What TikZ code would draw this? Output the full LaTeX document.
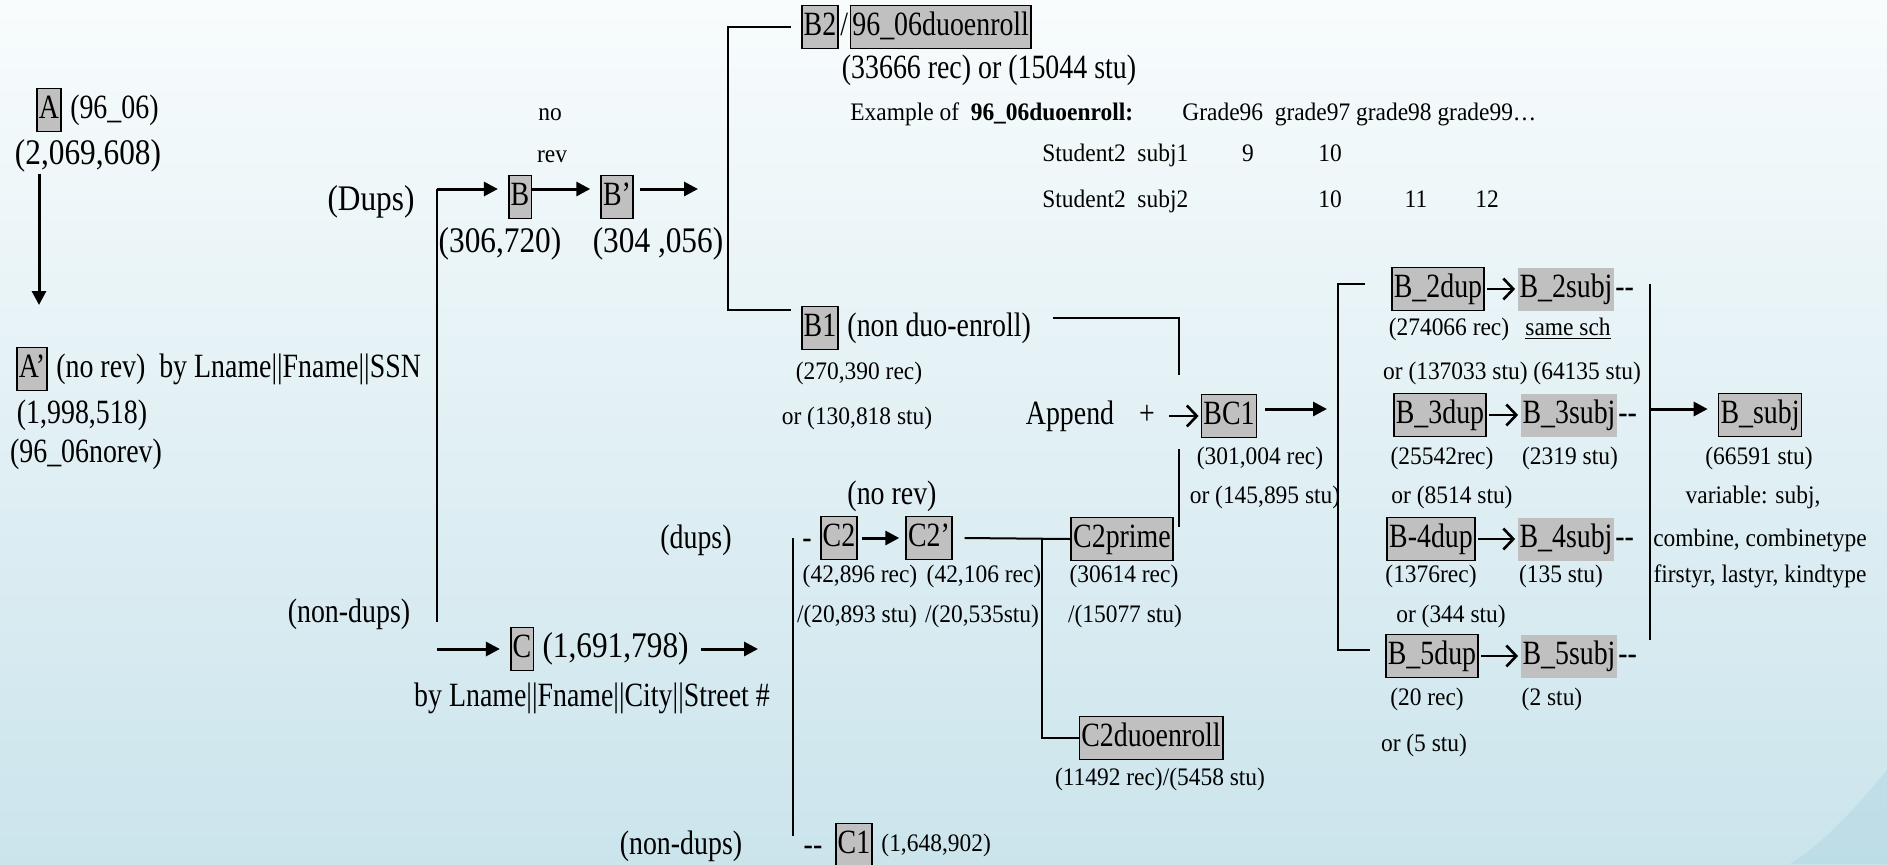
\documentclass[tikz,border=0pt]{standalone}
\usepackage{fontspec}
\setmainfont{Liberation Serif}[FakeStretch=0.82]
\newfontfamily\widefont{Liberation Serif}[FakeStretch=0.87]
\newfontfamily\smallfont{Liberation Serif}[FakeStretch=0.93]
\usepackage{tikz}
\usetikzlibrary{positioning, arrows.meta}
\definecolor{cellgray}{RGB}{192,192,192}
\definecolor{bgtop}{RGB}{248,252,253}
\definecolor{bgmid}{RGB}{240,247,250}
\definecolor{bgbottom}{RGB}{203,228,236}
\definecolor{swoosh}{RGB}{165,208,220}

\begin{document}
\begin{tikzpicture}[x=0.5pt, y=-0.5pt, >={Triangle[length=7pt, width=7pt]},
    font=\fontsize{17}{20}\selectfont, node distance=3pt,
    every node/.style={text height=12pt, text depth=3.5pt, inner sep=1pt},
    small/.style={font=\smallfont\fontsize{12.6}{15}\selectfont, text height=9pt, text depth=2.6pt},
    wide/.style={font=\widefont\fontsize{18}{21}\selectfont},
    dupbox/.style={draw=black, line width=0.8pt, fill=cellgray, inner xsep=1pt, inner ysep=3pt},
    subjbox/.style={fill=cellgray, inner xsep=1pt, inner ysep=3pt},
    arr/.style={->, line width=1.5pt, shorten >=5pt},
    barb/.style={-{Straight Barb[length=5pt, width=10.5pt]}, line width=1.3pt},
    link/.style={line width=1pt}]
    \useasboundingbox (0,0) rectangle (1887,864);
    \shade[top color=bgtop, middle color=bgmid, bottom color=bgbottom] (0,0) rectangle (1887,864);
    \fill[swoosh, opacity=0.35] (1887,770) .. controls (1850,815) and (1820,845) .. (1790,864) -- (1887,864) -- cycle;

    \node[dupbox] (a) at (49,110) {A};
    \node[right=of a] (aname) {(96\_06)};
    \node[wide] (acount) at (88,156) {(2,069,608)};
    \coordinate (atip) at (39,305);
    \draw[arr, shorten >=0pt] (acount.south -| atip) -- (atip);
    \node[dupbox] (ap) at (32,369) {A’};
    \node[right=of ap] (apname) {(no rev)\ \ by Lname||Fname||SSN};
    \node (apcount) at (82,415) {(1,998,518)};
    \node (apfile) at (86,454) {(96\_06norev)};

    \node[wide] (dups) at (371,202) {(Dups)};
    \node (nondups) at (349,614) {(non-dups)};
    \coordinate (split) at (437,189);
    \coordinate (splitend) at (437,622);
    \node[dupbox] (b) at (520,197) {B};
    \node[dupbox] (bp) at (617,197) {B’};
    \node[small] (no) at (550,114) {no};
    \node[small] (rev) at (552,156) {rev};
    \node[wide] (bcount) at (500,244) {(306,720)};
    \node[wide] (bpcount) at (658,244) {(304 ,056)};
    \coordinate (bpend) at (708,189);
    \draw[link] (splitend) -- (split);
    \draw[arr] (split) -- (split -| b.west);
    \draw[arr] (b.east |- split) -- (bp.west |- split);
    \draw[arr] ([xshift=3pt]bp.east |- split) -- (bpend);

    \coordinate (cstart) at (437,649);
    \node[dupbox] (c) at (522,649) {C};
    \node[wide, right=of c] (ccount) {(1,691,798)};
    \coordinate (cend) at (768,649);
    \node (ckey) at (592,698) {by Lname||Fname||City||Street \#};
    \draw[arr] (cstart) -- (c.west);
    \draw[arr] ([xshift=5pt]ccount.east) -- (cend);

    \node[dupbox] (b2) at (820,27) {B2};
    \node[right=0pt of b2, inner xsep=0.5pt] (slash) {/};
    \node[dupbox, right=0pt of slash] (duo) {96\_06duoenroll};
    \node (b2count) at (989,70) {(33666 rec) or (15044 stu)};
    \node[small, anchor=west] (example) at (848,114) {Example of\ \ \textbf{96\_06duoenroll:}};
    \node[small, anchor=west] (grades) at (1180,114) {Grade96\ \ grade97 grade98 grade99…};
    \node[small, anchor=west] (stu1) at (1040,155) {Student2\ \ subj1};
    \node[small] (s1g96) at (1248,155) {9};
    \node[small] (s1g97) at (1330,155) {10};
    \node[small, anchor=west] (stu2) at (1040,201) {Student2\ \ subj2};
    \node[small] (s2g97) at (1330,201) {10};
    \node[small] (s2g98) at (1416,201) {11};
    \node[small] (s2g99) at (1487,201) {12};
    \node[dupbox] (b1) at (820,328) {B1};
    \node[right=of b1] (b1name) {(non duo-enroll)};
    \node[small] (b1rec) at (859,373) {(270,390 rec)};
    \node[small] (b1stu) at (857,418) {or (130,818 stu)};
    \draw[link] ([xshift=-5pt]b2.west) -- ++(-63,0) |- ([xshift=-5pt, yshift=-2pt]b1.north west);

    \node (append) at (1070,416) {Append};
    \node (plus) at (1147,416) {+};
    \node[dupbox] (bc1) at (1229,416) {BC1};
    \coordinate (b1join) at (1179,375);
    \coordinate (c2join) at (1179,449);
    \coordinate (bcend) at (1337,409);
    \node[small] (bc1rec) at (1260,458) {(301,004 rec)};
    \node[small] (bc1stu) at (1265,497) {or (145,895 stu)};
    \draw[barb] ([xshift=6pt]plus.east) -- ([xshift=-1pt]bc1.west);
    \draw[arr] ([xshift=4pt]bc1.east |- bcend) -- (bcend);
    \draw[link] ([xshift=10pt, yshift=5pt]b1name.east) -| (b1join);

    \coordinate (ctop) at (793,538);
    \coordinate (cbot) at (793,836);
    \draw[link] (ctop) -- (cbot);
    \node (dupsc) at (696,540) {(dups)};
    \node (nondupsc) at (681,846) {(non-dups)};
    \node (c2dash) at (807,540) {-};
    \node[dupbox] (c2) at (839,538) {C2};
    \node[dupbox] (c2p) at (929,538) {C2’};
    \draw[arr, shorten >=3pt] ([xshift=2pt]c2.east) -- (c2p.west);
    \node (c2norev) at (892,496) {(no rev)};
    \node[small] (c2rec) at (860,576) {(42,896 rec)};
    \node[small] (c2prec) at (984,576) {(42,106 rec)};
    \node[small] (c2stu) at (857,616) {/(20,893 stu)};
    \node[small] (c2pstu) at (982,616) {/(20,535stu)};
    \node[dupbox] (c2prime) at (1122,539) {C2prime};
    \node[small] (c2primerec) at (1124,576) {(30614 rec)};
    \node[small] (c2primestu) at (1125,616) {/(15077 stu)};
    \node[dupbox] (c2duo) at (1151,738) {C2duoenroll};
    \node[small] (c2duocount) at (1160,779) {(11492 rec)/(5458 stu)};
    \coordinate (cjoin) at (1042,539);
    \draw[link] ([xshift=6pt]c2p.east) -- (c2prime.west);
    \draw[link] (cjoin) |- (c2duo.west);
    \draw[link] (c2join) -- ([yshift=-5pt]c2prime.north -| c2join);
    \node (c1dash) at (813,847) {-{}-};
    \node[dupbox] (c1) at (854,845) {C1};
    \node[small, right=of c1] (c1count) {(1,648,902)};

    \node[dupbox] (b2dup) at (1438,289) {B\_2dup};
    \node[subjbox] (b2subj) at (1566,289) {B\_2subj};
    \node[right=0pt of b2subj, inner xsep=0pt] (b2tail) {-{}-};
    \node[small] (b2rec) at (1449,329) {(274066 rec)};
    \node[small] (samesch) at (1568,329) {\underline{same sch}};
    \node[small] (b2stu) at (1512,373) {or (137033 stu) (64135 stu)};
    \node[dupbox] (b3dup) at (1440,415) {B\_3dup};
    \node[subjbox] (b3subj) at (1569,415) {B\_3subj};
    \node[right=0pt of b3subj, inner xsep=0pt] (b3tail) {-{}-};
    \node[small] (b3rec) at (1442,458) {(25542rec)};
    \node[small] (b3subjstu) at (1570,458) {(2319 stu)};
    \node[small] (b3stu) at (1452,497) {or (8514 stu)};
    \node[dupbox] (b4dup) at (1431,539) {B-4dup};
    \node[subjbox] (b4subj) at (1566,539) {B\_4subj};
    \node[right=0pt of b4subj, inner xsep=0pt] (b4tail) {-{}-};
    \node[small] (b4rec) at (1431,576) {(1376rec)};
    \node[small] (b4subjstu) at (1561,576) {(135 stu)};
    \node[small] (b4stu) at (1451,616) {or (344 stu)};
    \node[dupbox] (b5dup) at (1432,656) {B\_5dup};
    \node[subjbox] (b5subj) at (1569,656) {B\_5subj};
    \node[right=0pt of b5subj, inner xsep=0pt] (b5tail) {-{}-};
    \node[small] (b5rec) at (1427,699) {(20 rec)};
    \node[small] (b5subjstu) at (1552,699) {(2 stu)};
    \node[small] (b5stu) at (1424,745) {or (5 stu)};
    \draw[barb] ([xshift=1pt]b2dup.east) -- ([xshift=-1pt]b2subj.west);
    \draw[barb] ([xshift=1pt]b3dup.east) -- ([xshift=-1pt]b3subj.west);
    \draw[barb] ([xshift=1pt]b4dup.east) -- ([xshift=-1pt]b4subj.west);
    \draw[barb] ([xshift=1pt]b5dup.east) -- ([xshift=-1pt]b5subj.west);
    \draw[link] ([xshift=-13pt, yshift=2.5pt]b2dup.west) -- ++(-27,0) |- ([xshift=-7.5pt, yshift=3pt]b5dup.west);

    \coordinate (mergetop) at (1650,284);
    \coordinate (mergemid) at (1650,409);
    \coordinate (mergebot) at (1650,640);
    \node[dupbox] (bsubj) at (1760,415) {B\_subj};
    \node[small] (bsubjcount) at (1759,458) {(66591 stu)};
    \node[small] (vars1) at (1753,497) {variable: subj,};
    \node[small] (vars2) at (1760,540) {combine, combinetype};
    \node[small] (vars3) at (1760,576) {firstyr, lastyr, kindtype};
    \draw[link] (mergetop) -- (mergebot);
    \draw[arr] (mergemid) -- (mergemid -| bsubj.west);
\end{tikzpicture}
\end{document}
